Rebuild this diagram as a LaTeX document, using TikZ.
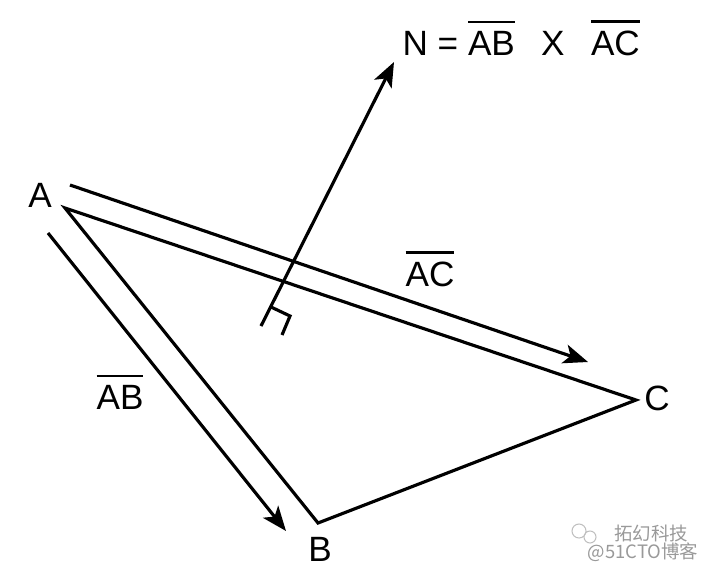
\documentclass[tikz,border=0pt]{standalone}
\usepackage{fontspec}
\setmainfont{Liberation Sans}
\newfontfamily\cjkfont{Noto Sans CJK SC}
\usetikzlibrary{arrows.meta}

% bar over a vector name
\newcommand\vecbar[1]{\vbox{\hrule height 1.3pt \kern 4.5pt \hbox{#1}}}

\begin{document}
\begin{tikzpicture}[x=0.02cm, y=-0.02cm, line width=1.8pt,
    vecarrow/.style={-{Stealth[length=14pt,width=11pt,inset=3.5pt]}},
    lbl/.style={font=\fontsize{20}{24}\selectfont, inner sep=0pt},
    wmark/.style={font=\cjkfont\fontsize{10.5}{12}\selectfont, text=black!40, inner sep=0pt}]

    \useasboundingbox (0,0) rectangle (702,568);

    % Triangle vertices
    \coordinate (A) at (65,208);
    \coordinate (B) at (318,523);
    \coordinate (C) at (636,400);
    \draw (A) -- (B) -- (C) -- cycle;

    % Vectors along the edges
    \coordinate (ab0) at (48,233);
    \coordinate (ab1) at (286,531);
    \coordinate (ac0) at (70,185);
    \coordinate (ac1) at (588,362);
    \draw[vecarrow] (ab0) -- (ab1);
    \draw[vecarrow] (ac0) -- (ac1);

    % Normal vector with right angle mark
    \coordinate (n0) at (261,326);
    \coordinate (n1) at (394,62);
    \draw[vecarrow] (n0) -- (n1);
    \draw (271,307) -- (290,316) -- (282,335);

    % Labels
    \node[lbl] (labA) at (40,195) {A};
    \node[lbl] (labB) at (320,549) {B};
    \node[lbl] (labC) at (657,398) {C};
    \node[lbl] (labAB) at (120,392) {\vecbar{AB}};
    \node[lbl] (labAC) at (430,269) {\vecbar{AC}};
    \node[lbl, anchor=base west] (labN) at (401,55)
        {N = \vecbar{AB}\hspace{0.75em}X\hspace{0.75em}\vecbar{AC}};

    % Watermark
    \draw[black!25, line width=0.6pt] (579,531) circle (7) (590,537) circle (6);
    \node[wmark] (wm1) at (651,533) {拓幻科技};
    \node[wmark] (wm2) at (643,552) {@51CTO博客};

\end{tikzpicture}
\end{document}
